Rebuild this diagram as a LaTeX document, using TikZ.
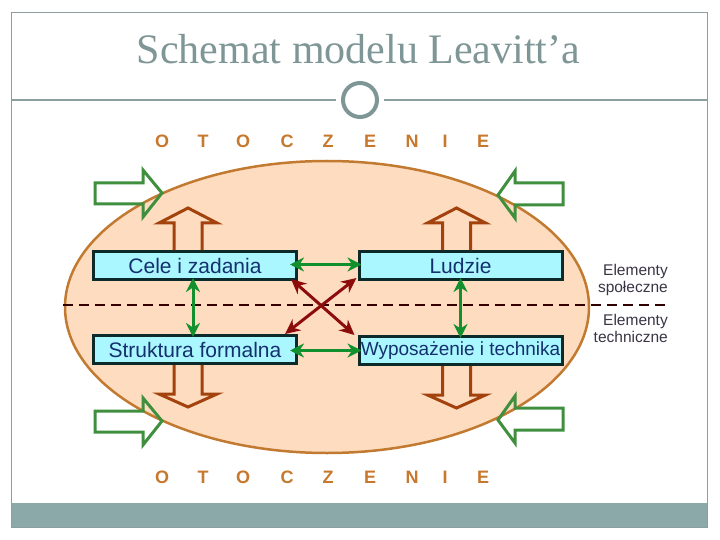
\documentclass[tikz,border=0pt]{standalone}
\usepackage{fontspec}
\setmainfont{Liberation Serif}
\newfontfamily\arialf{Liberation Sans}
\usetikzlibrary{arrows.meta,calc,shapes.geometric}
\definecolor{framec}{HTML}{8C9E9E}
\definecolor{titlec}{HTML}{7F9696}
\definecolor{barc}{HTML}{8BA9A9}
\definecolor{peach}{HTML}{FDDCC0}
\definecolor{ellb}{HTML}{C27A30}
\definecolor{otoc}{HTML}{C8782C}
\definecolor{bigg}{HTML}{3F8F3F}
\definecolor{brownc}{HTML}{A3420C}
\definecolor{boxf}{HTML}{AAF7FF}
\definecolor{boxb}{HTML}{0C2A2A}
\definecolor{boxt}{HTML}{14306E}
\definecolor{linkg}{HTML}{12902E}
\definecolor{linkr}{HTML}{8C0C0C}
\definecolor{labc}{HTML}{3A3444}
\tikzset{
  elembox/.style={draw=boxb, line width=3pt, fill=boxf, text=boxt, minimum width=203pt, minimum height=28pt, inner sep=0pt, font=\arialf\fontsize{21}{25}\selectfont},
  otocz/.style={text=otoc, font=\arialf\bfseries\fontsize{18}{21}\selectfont, inner sep=0pt},
  sidelab/.style={text=labc, font=\arialf\fontsize{15.5}{18}\selectfont, inner sep=0pt, anchor=base east},
  glink/.style={draw=linkg, line width=3pt, {Stealth[length=14pt,width=14pt]}-{Stealth[length=14pt,width=14pt]}},
  rlink/.style={draw=linkr, line width=3pt, {Stealth[length=15pt,width=14pt]}-{Stealth[length=15pt,width=14pt]}},
  hollowbrown/.style={draw=brownc, line width=3pt, line join=miter},
  hollowgreen/.style={draw=bigg, line width=3pt, line join=miter},
  brownup/.pic={\draw[hollowbrown] (-14,0) -- (-14,-27) -- (-29,-27) -- (0,-42) -- (29,-27) -- (14,-27) -- (14,0);},
  browndown/.pic={\draw[hollowbrown] (-14,0) -- (-14,29) -- (-29,29) -- (0,42) -- (29,29) -- (14,29) -- (14,0);},
  greenright/.pic={\draw[hollowgreen] (0,0) -- (-19,-23) -- (-19,-10) -- (-67,-10) -- (-67,11) -- (-19,11) -- (-19,24) -- cycle;},
  greenleft/.pic={\draw[hollowgreen] (0,0) -- (17,-24) -- (17,-12) -- (65,-12) -- (65,10) -- (17,10) -- (17,23) -- cycle;}
}
\begin{document}
\begin{tikzpicture}[x=1pt,y=-1pt]
\useasboundingbox (0,0) rectangle (720,540);
% frame
\fill[white] (0,0) rectangle (720,540);
\fill[barc] (11,503) rectangle (708,527);
\draw[framec, line width=1pt] (11.5,12.5) rectangle (707.5,527.5);
% title
\node[text=titlec, font=\fontsize{42}{48}\selectfont] (title) at (358.5,49.5) {Schemat modelu Leavitt’a};
\node[circle, draw=titlec, line width=4pt, fill=white, minimum size=34pt, inner sep=0pt] (ring) at (360,100) {};
\coordinate (tl) at (11.5,100);
\coordinate (tr) at (707.5,100);
\draw[framec, line width=1.2pt] (tl) -- ([xshift=-5pt]ring.west);
\draw[framec, line width=1.2pt] ([xshift=5pt]ring.east) -- (tr);
% ellipse
\node[ellipse, draw=ellb, line width=2.5pt, fill=peach, minimum width=524pt, minimum height=292pt, inner sep=0pt] (env) at (327,307) {};
% dashed line
\coordinate (dl) at (63,305);
\coordinate (dr) at (668,305);
\draw[draw=black!80!red, line width=2pt, dash pattern=on 10pt off 6pt] (dl) -- (dr);
% OTOCZENIE
\foreach \ch/\xx [count=\i] in {O/162,T/203,O/243,C/287,Z/328,E/370,N/412,I/445,E/483}{
  \node[otocz] (ot\i) at (\xx,141) {\ch};
  \node[otocz] (ob\i) at (\xx,477) {\ch};
}
% boxes
\node[elembox] (cele) at (195,265.5) {Cele i zadania};
\node[elembox] (ludzie) at (460.5,265.5) {Ludzie};
\node[elembox] (strukt) at (195,349.5) {Struktura formalna};
\node[elembox, font=\arialf\fontsize{19}{23}\selectfont] (wypos) at (460.5,350.5) {Wyposażenie i technika};
% side labels
\node[sidelab] (l1) at (668,275) {Elementy};
\node[sidelab] (l2) at (668,292) {społeczne};
\node[sidelab] (l3) at (668,325) {Elementy};
\node[sidelab] (l4) at (668,342) {techniczne};
% green links
\draw[glink] ($(cele.east)+(-8,-1)$) -- ($(ludzie.west)+(4,-1)$);
\draw[glink] ($(strukt.east)+(-8,1)$) -- ($(wypos.west)+(4,0)$);
\draw[glink] ($(cele.south)+(-2,-3)$) -- ($(strukt.north)+(-2,3)$);
\draw[glink] ($(ludzie.south)+(0,-3)$) -- ($(wypos.north)+(0,3)$);
% red cross links
\draw[rlink] ($(cele.south east)+(-7,-2)$) -- ($(wypos.north west)+(-3,0)$);
\draw[rlink] ($(ludzie.south west)+(-1,-3)$) -- ($(strukt.north east)+(-13,0)$);
% brown hollow arrows
\pic at ($(cele.north)+(-7,0)$) {brownup};
\pic at ($(ludzie.north)+(-4,0)$) {brownup};
\pic at ($(strukt.south)+(-7,0)$) {browndown};
\pic at ($(wypos.south)+(-4,0)$) {browndown};
% big green arrows
\coordinate (g1) at (162,193);
\coordinate (g2) at (498,195);
\coordinate (g3) at (162,421);
\coordinate (g4) at (498,420);
\pic at (g1) {greenright};
\pic at (g2) {greenleft};
\pic at (g3) {greenright};
\pic at (g4) {greenleft};
\end{tikzpicture}
\end{document}
